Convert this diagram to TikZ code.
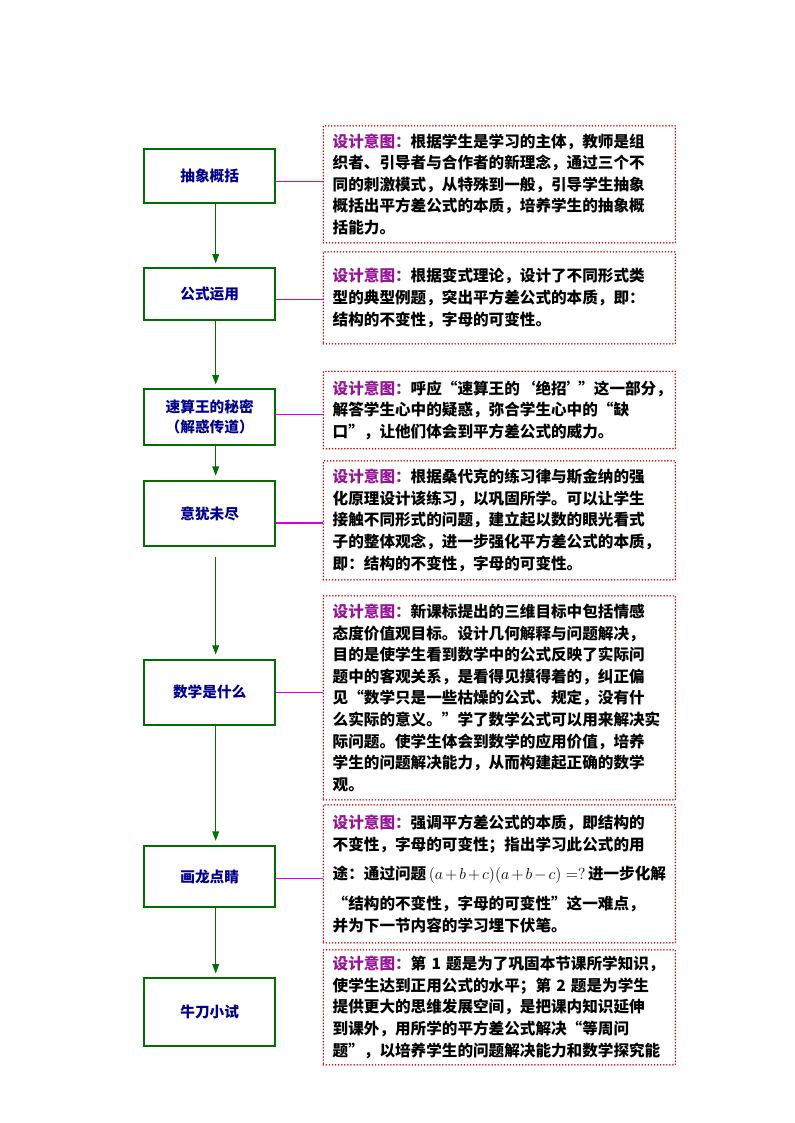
\documentclass[tikz,border=0pt]{standalone}
\usepackage{fontspec}
\usepackage{tikz}
\usetikzlibrary{arrows.meta,positioning}
\newfontfamily\cjk{Noto Sans CJK SC}

\definecolor{stagegreen}{RGB}{0,110,0}
\definecolor{titleblue}{RGB}{0,0,140}
\definecolor{linkpink}{RGB}{220,0,220}
\definecolor{dotred}{RGB}{200,0,0}
\definecolor{headpurple}{RGB}{150,20,150}
\newcommand{\yitu}{{\color{headpurple}设计意图：}}

\begin{document}
\begin{tikzpicture}[x=0.75pt,y=-0.75pt,
  stage/.style={draw=stagegreen, line width=1.5pt, minimum width=98pt, align=center,
    text=titleblue, font=\cjk\bfseries\fontsize{11pt}{15pt}\selectfont},
  intent/.style={draw=dotred, line width=1.3pt, line cap=round, dash pattern=on 0pt off 2.3pt,
    anchor=north west, text width=250pt, inner xsep=7pt, inner ysep=4pt, align=left,
    font=\cjk\bfseries\fontsize{11.7pt}{16.2pt}\selectfont},
  flow/.style={draw=stagegreen, line width=1pt, -{Triangle[length=7pt,width=5pt]}, shorten >=3pt},
  link/.style={draw=linkpink, line width=1pt}]
\useasboundingbox (0,0) rectangle (794,1123);
% stages
\node[stage, minimum height=40pt] (s1) at (209.7,176) {抽象概括};
\node[stage, minimum height=38.7pt] (s2) at (209.7,294.2) {公式运用};
\node[stage, minimum height=41.3pt] (s3) at (209.7,417) {速算王的秘密\\（解惑传道）};
\node[stage, minimum height=49.1pt] (s4) at (209.7,513.5) {意犹未尽};
\node[stage, minimum height=49pt] (s5) at (209.7,692.3) {数学是什么};
\node[stage, minimum height=46.2pt] (s6) at (209.7,876.6) {画龙点睛};
\node[stage, minimum height=50.3pt] (s7) at (209.7,1012) {牛刀小试};
% design intents
\node[intent, minimum height=87.75pt] (d1) at (322.5,125) {\yitu 根据学生是学习的主体，教师是组\\
织者、引导者与合作者的新理念，通过三个不\\
同的刺激模式，从特殊到一般，引导学生抽象\\
概括出平方差公式的本质，培养学生的抽象概\\
括能力。};
\node[intent, minimum height=69pt] (d2) at (322.5,251) {\yitu 根据变式理论，设计了不同形式类\\
型的典型例题，突出平方差公式的本质，即：\\
结构的不变性，字母的可变性。};
\node[intent, minimum height=58pt] (d3) at (322.5,370.5) {\yitu 呼应“速算王的‘绝招’\kern-3pt”这一部分，\\
解答学生心中的疑惑，弥合学生心中的“缺\\
口”，让他们体会到平方差公式的威力。};
\node[intent, minimum height=89.25pt] (d4) at (322.5,460) {\yitu 根据桑代克的练习律与斯金纳的强\\
化原理设计该练习，以巩固所学。可以让学生\\
接触不同形式的问题，建立起以数的眼光看式\\
子的整体观念，进一步强化平方差公式的本质，\\
即：结构的不变性，字母的可变性。};
\node[intent, minimum height=153pt] (d5) at (322.5,595) {\yitu 新课标提出的三维目标中包括情感\\
态度价值观目标。设计几何解释与问题解决，\\
目的是使学生看到数学中的公式反映了实际问\\
题中的客观关系，是看得见摸得着的，纠正偏\\
见“数学只是一些枯燥的公式、规定，没有什\\
么实际的意义。”学了数学公式可以用来解决实\\
际问题。使学生体会到数学的应用价值，培养\\
学生的问题解决能力，从而构建起正确的数学\\
观。};
\node[intent, minimum height=103.5pt] (d6) at (322.5,804) {\yitu 强调平方差公式的本质，即结构的\\
不变性，字母的可变性；指出学习此公式的用\\[6pt]
途：通过问题\,$(a+b+c)(a+b-c)=?$\,进一步化解\\[6pt]
“结构的不变性，字母的可变性”这一难点，\\
并为下一节内容的学习埋下伏笔。};
\node[intent, minimum height=86.25pt] (d7) at (322.5,949) {\yitu 第~1~题是为了巩固本节课所学知识，\\
使学生达到正用公式的水平；第~2~题是为学生\\
提供更大的思维发展空间，是把课内知识延伸\\
到课外，用所学的平方差公式解决“等周问\\
题”，以培养学生的问题解决能力和数学探究能};
% arrows down the stages
\foreach \a/\b in {1/2,2/3,3/4,5/6,6/7}
  \draw[flow] ([xshift=4.5pt]s\a.south) -- ([xshift=4.5pt]s\b.north);
\draw[flow, shorten <=7.5pt] ([xshift=4.5pt]s4.south) -- ([xshift=4.5pt]s5.north);
% links to the intents
\foreach \i/\dy in {1/4,2/4,3/-2,4/7,5/0,6/1.5}
  \draw[link] ([yshift=-\dy pt]s\i.east) -- ([yshift=-\dy pt]s\i.east -| d\i.west);
\end{tikzpicture}
\end{document}
